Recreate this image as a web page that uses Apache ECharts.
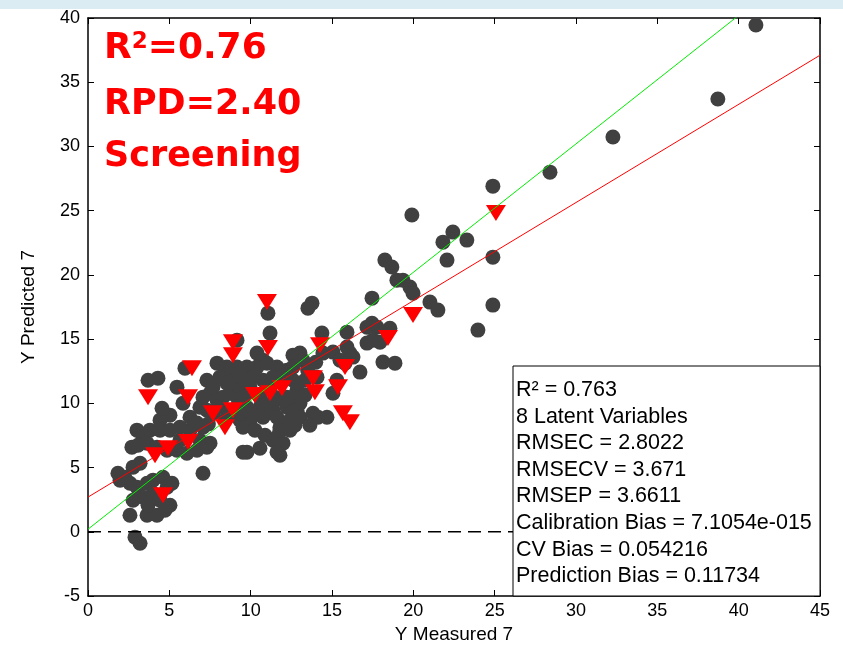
<!DOCTYPE html>
<html>
<head>
<meta charset="utf-8">
<script src="https://cdn.jsdelivr.net/npm/echarts@6/dist/echarts.min.js"></script>
<style>
  html, body { margin: 0; padding: 0; background: #fff; }
  #chart { width: 843px; height: 651px; }
</style>
</head>
<body>
<div id="chart"></div>
<script>
// calibration samples (measured, predicted)
var calPoints = [
  [41.06,39.45],[38.72,33.69],[32.27,30.73],[28.40,28.0],[24.89,26.91],[24.89,21.38],[24.89,17.65],[23.97,15.70],
  [19.91,24.66],[21.82,22.55],[22.43,23.33],[23.29,22.71],[22.07,21.15],[18.25,21.15],[18.68,20.61],[18.99,19.59],
  [19.36,19.59],[19.79,19.05],[19.98,18.58],[17.46,18.19],[21.02,17.88],[21.51,17.26],[13.77,17.80],[13.52,17.41],
  [11.06,17.02],[11.19,15.47],[14.38,15.47],[15.92,15.54],[17.15,15.93],[17.46,16.24],[17.76,15.93],[18.56,15.85],
  [17.52,14.92],[17.95,14.76],[17.15,14.69],[13.03,13.91],[12.60,13.75],[14.44,13.91],[15.06,13.99],[15.92,14.38],
  [16.10,13.91],[16.29,13.60],[18.13,13.21],[18.87,13.13],[16.72,12.43],[10.39,13.91],[10.76,13.36],[9.16,14.92],
  [15.49,13.36],[15.80,13.13],[13.21,13.36],
  [9.16,12.82],[9.77,12.82],[10.39,12.82],[11.0,13.13],[11.62,12.82],[12.23,12.58],[12.60,12.82],[8.91,12.04],
  [9.53,12.04],[10.14,12.04],[10.76,11.80],[11.37,12.04],[12.60,11.80],[12.85,11.03],[9.16,11.03],[9.77,10.79],
  [12.60,10.48],[13.03,10.01],[9.16,9.70],[9.77,9.70],[10.57,9.70],[11.37,9.47],[12.23,9.70],[12.85,9.47],
  [9.34,8.69],[9.96,8.69],[10.76,8.92],[11.62,8.92],[12.42,8.69],[13.03,8.92],[9.53,8.14],[11.80,8.14],
  [12.42,7.91],[11.62,7.37],[11.99,6.90],[11.37,7.13],[13.83,9.23],[14.14,8.92],[14.69,8.92],[9.77,6.20],
  [10.57,6.51],[11.62,6.20],[11.80,5.96],[13.34,11.80],[14.08,12.04],[15.30,11.80],[15.06,10.79],[12.23,10.48],
  [12.23,8.46],[11.80,7.91],
  [9.96,11.26],[11.19,11.42],[11.99,10.25],[10.57,10.48],[11.49,10.48],[10.26,7.91],[10.88,7.52],[12.72,8.30],
  [13.34,10.64],[13.64,8.30],[8.42,8.69],[10.2,9.1],[10.9,9.9],[12.0,12.1],[13.5,12.6],[14.0,13.2],
  [6.27,7.91],[6.88,7.13],[5.65,7.13],[5.04,9.08],[4.43,8.69],[7.4,8.4],
  [3.69,11.80],[4.30,11.96],[5.96,12.74],[5.47,11.26],[4.55,9.62],[7.93,13.13],[8.54,12.82],[7.31,11.80],
  [7.68,11.26],[8.11,12.04],[8.54,11.57],[9.34,12.35],[9.77,11.80],[7.07,10.48],[7.50,10.79],[7.93,10.25],
  [8.30,10.48],[8.73,10.79],[9.16,10.48],[9.53,10.48],[6.88,9.70],[7.31,9.47],[7.68,9.23],[8.11,9.70],
  [8.54,9.47],[8.91,9.23],[9.34,9.23],[9.77,9.47],[6.27,8.92],[6.70,8.46],[7.07,8.14],[5.84,10.01],
  [3.01,7.91],[3.38,7.37],[3.81,7.91],[4.43,7.91],[5.04,7.91],[5.65,8.14],[2.70,6.59],[3.07,6.74],
  [3.63,6.90],[4.24,6.59],[4.86,6.35],[5.47,6.35],[6.08,6.12],[6.70,6.35],[7.31,6.59],[7.50,6.90],
  [9.53,6.20],[1.84,4.56],[2.27,4.25],[2.77,5.03],[3.20,5.34],[2.58,3.78],[3.01,3.47],[3.63,3.78],
  [4.0,4.02],[4.61,4.25],[4.86,3.47],[5.16,3.78],[7.07,4.56],[2.77,2.46],[3.38,2.69],[4.0,3.00],
  [4.43,2.46],[2.58,1.29],[3.63,1.29],[4.24,1.29],[4.73,1.68],[5.04,2.07],[2.89,-0.42],[3.20,-0.89],
  [1.97,4.02],[3.69,2.07]
];

// validation samples (measured, predicted)
var valPoints = [
  [11.0,17.88],[8.91,14.76],[8.91,13.75],[11.06,14.30],[6.39,12.74],[3.69,10.48],[6.15,10.48],[7.68,9.23],
  [8.91,9.47],[8.42,8.14],[10.26,10.64],[11.19,10.79],[11.92,11.18],[4.12,5.96],[4.92,6.51],[6.15,6.98],
  [4.61,2.85],[13.83,11.96],[13.95,10.87],[15.37,11.26],[15.80,12.82],[14.26,14.53],[15.67,9.23],[16.10,8.53],
  [18.44,15.08],[19.98,16.87],[25.08,24.81]
];

var fitLine = [[0, 2.7], [45, 37.1]];
var oneToOne = [[0, 0.2], [45, 45.2]];
var zeroLine = [[0, 0], [45, 0]];

var statLines = [
  'R\u00b2 = 0.763',
  '8 Latent Variables',
  'RMSEC = 2.8022',
  'RMSECV = 3.671',
  'RMSEP = 3.6611',
  'Calibration Bias = 7.1054e-015',
  'CV Bias = 0.054216',
  'Prediction Bias = 0.11734'
];

var FONT = '"Liberation Sans", Arial, sans-serif';

var chart = echarts.init(document.getElementById('chart'));

var axisLine = {show: true, onZero: false, lineStyle: {color: '#000', width: 1.5}};
var axisTick = {show: true, inside: true, length: 6, lineStyle: {color: '#000', width: 1}};

var statTexts = statLines.map(function (s, i) {
  return {
    type: 'text', left: 516, top: 379 + i * 26.6, z: 101,
    style: {text: s, fill: '#000', font: '21.5px ' + FONT}
  };
});

var redFont = '"DejaVu Sans", sans-serif';

option = {
  animation: false,
  backgroundColor: '#fff',
  grid: {left: 88, right: 23, top: 18, bottom: 55, outerBoundsMode: 'none'},
  xAxis: [
    {
      type: 'value', min: 0, max: 45, interval: 5, position: 'bottom',
      axisLine: axisLine, axisTick: axisTick, splitLine: {show: false},
      axisLabel: {color: '#000', fontSize: 18, fontFamily: FONT, margin: 6},
      name: 'Y Measured 7', nameLocation: 'middle', nameGap: 28,
      nameTextStyle: {color: '#000', fontSize: 19, fontFamily: FONT}
    },
    {
      type: 'value', min: 0, max: 45, interval: 5, position: 'top',
      axisLine: axisLine, axisTick: axisTick, splitLine: {show: false},
      axisLabel: {show: false}
    }
  ],
  yAxis: [
    {
      type: 'value', min: -5, max: 40, interval: 5, position: 'left',
      axisLine: axisLine, axisTick: axisTick, splitLine: {show: false},
      axisLabel: {color: '#000', fontSize: 18, fontFamily: FONT, margin: 8},
      name: 'Y Predicted 7', nameLocation: 'middle', nameGap: 50,
      nameTextStyle: {color: '#000', fontSize: 19, fontFamily: FONT}
    },
    {
      type: 'value', min: -5, max: 40, interval: 5, position: 'right',
      axisLine: axisLine, axisTick: axisTick, splitLine: {show: false},
      axisLabel: {show: false}
    }
  ],
  series: [
    {
      type: 'scatter', data: calPoints, symbol: 'circle', symbolSize: 15,
      itemStyle: {color: '#404040', opacity: 1}, z: 2
    },
    {
      type: 'scatter', data: valPoints, symbol: 'triangle', symbolSize: [20, 16],
      symbolRotate: 180, itemStyle: {color: '#ff0000', opacity: 1}, z: 3
    },
    {
      type: 'line', data: fitLine, showSymbol: false, symbol: 'none', z: 4,
      lineStyle: {color: '#ff0000', width: 1}
    },
    {
      type: 'line', data: oneToOne, showSymbol: false, symbol: 'none', z: 4,
      lineStyle: {color: '#00ee00', width: 1}
    },
    {
      type: 'line', data: zeroLine, showSymbol: false, symbol: 'none', z: 4,
      lineStyle: {color: '#000', width: 1.5, type: [13, 7]}
    }
  ],
  graphic: [
    {type: 'rect', shape: {x: 0, y: 0, width: 843, height: 9}, style: {fill: '#dbecf3'}, z: 100},
    {
      type: 'rect', shape: {x: 513, y: 366, width: 307, height: 230}, z: 100,
      style: {fill: '#fff', stroke: '#000', lineWidth: 1}
    },
    {
      type: 'text', left: 104, top: 31, z: 101,
      style: {
        text: '{a|R}{s|2}{a|=0.76}',
        rich: {
          a: {fontSize: 36, fontWeight: 'bold', fontFamily: redFont, fill: '#ff0000'},
          s: {fontSize: 23, fontWeight: 'bold', fontFamily: redFont, fill: '#ff0000', verticalAlign: 'top'}
        }
      }
    },
    {
      type: 'text', left: 104, top: 87, z: 101,
      style: {text: 'RPD=2.40', fill: '#ff0000', font: 'bold 35px ' + redFont}
    },
    {
      type: 'text', left: 104, top: 139, z: 101,
      style: {text: 'Screening', fill: '#ff0000', font: 'bold 35px ' + redFont}
    }
  ].concat(statTexts)
};

chart.setOption(option);
</script>
</body>
</html>
